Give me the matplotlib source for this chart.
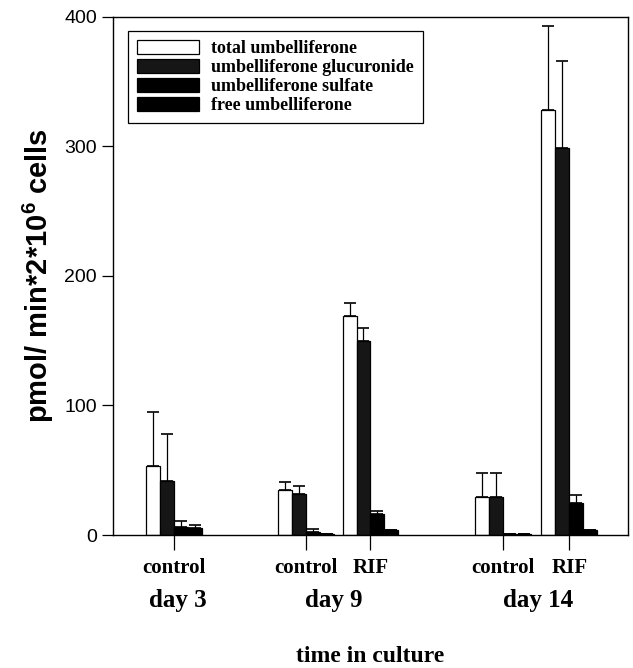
import numpy as np
import matplotlib.pyplot as plt
from matplotlib.transforms import blended_transform_factory

plt.rcParams['mathtext.fontset'] = 'custom'
plt.rcParams['mathtext.rm'] = 'Liberation Sans:bold'
plt.rcParams['mathtext.bf'] = 'Liberation Sans:bold'
plt.rcParams['mathtext.it'] = 'Liberation Sans:bold'

# data, one value per treatment group (day3 ctrl, day9 ctrl, day9 RIF, day14 ctrl, day14 RIF)
groups = ['control', 'control', 'RIF', 'control', 'RIF']
days = ['day 3', 'day 9', 'day 14']
series = ['total umbelliferone', 'umbelliferone glucuronide',
          'umbelliferone sulfate', 'free umbelliferone']
total = [53, 35, 169, 29, 328]
total_err = [42, 6, 10, 19, 65]
glucuronide = [42, 32, 150, 29, 299]
glucuronide_err = [36, 6, 10, 19, 67]
sulfate = [6, 2, 16, 0.5, 25]
sulfate_err = [5, 2.5, 2.5, 0, 6]
free = [5.5, 1, 3.5, 1, 3.5]
free_err = [2, 0, 0, 0, 0]

values = [total, glucuronide, sulfate, free]
errors = [total_err, glucuronide_err, sulfate_err, free_err]
colors = ['white', '#161616', 'black', 'black']

centers = np.array([4.36, 13.8, 18.4, 27.85, 32.6])
day_x = [4.6, 15.8, 30.4]
w = 1.0

fig = plt.figure(figsize=(6.33, 6.68), dpi=100)
ax = fig.add_axes([0.1785, 0.1991, 0.8136, 0.7755])

for i, (vals, errs, c) in enumerate(zip(values, errors, colors)):
    x = centers + (i - 1.5) * w
    ax.bar(x, vals, width=w, color=c, edgecolor='black', linewidth=0.9,
           label=series[i], zorder=2)
    ax.errorbar(x, vals, yerr=[np.zeros(len(errs)), errs], fmt='none',
                ecolor='black', elinewidth=0.9, capsize=4, capthick=1.2, zorder=1)

ax.set_xlim(0, 36.8)
ax.set_ylim(0, 400)
ax.set_yticks([0, 100, 200, 300, 400])
ax.tick_params(axis='y', direction='out', length=8, width=0.9, labelsize=14)
ax.tick_params(axis='x', direction='out', length=11, width=0.9, labelbottom=False)
ax.set_xticks(centers)
for s in ax.spines.values():
    s.set_linewidth(1.0)
for lab in ax.get_yticklabels():
    lab.set_family('Liberation Sans')

ax.set_ylabel(r'pmol/ min*2*10$^{6}$ cells', fontsize=21, fontweight='bold',
              family='Liberation Sans', labelpad=6)

tr = blended_transform_factory(ax.transData, fig.transFigure)
for x, g in zip(centers, groups):
    ax.text(x, 1 - 568 / 668, g, transform=tr, ha='center', va='center',
            fontsize=15, fontweight='bold', family='Liberation Serif')
for x, d in zip(day_x, days):
    ax.text(x, 1 - 600 / 668, d, transform=tr, ha='center', va='center',
            fontsize=18, fontweight='bold', family='Liberation Serif')
fig.text(370 / 633, 1 - 656 / 668, 'time in culture', ha='center', va='center',
         fontsize=17, fontweight='bold', family='Liberation Serif')

leg = ax.legend(loc='upper left', bbox_to_anchor=(0.012, 0.99), fancybox=False,
                edgecolor='black', framealpha=1, handlelength=3.4, handleheight=0.8,
                borderpad=0.5, labelspacing=0.1, handletextpad=0.7,
                prop={'family': 'Liberation Serif', 'weight': 'bold', 'size': 13})
leg.get_frame().set_linewidth(0.9)

fig.savefig('out.png', dpi=100)
